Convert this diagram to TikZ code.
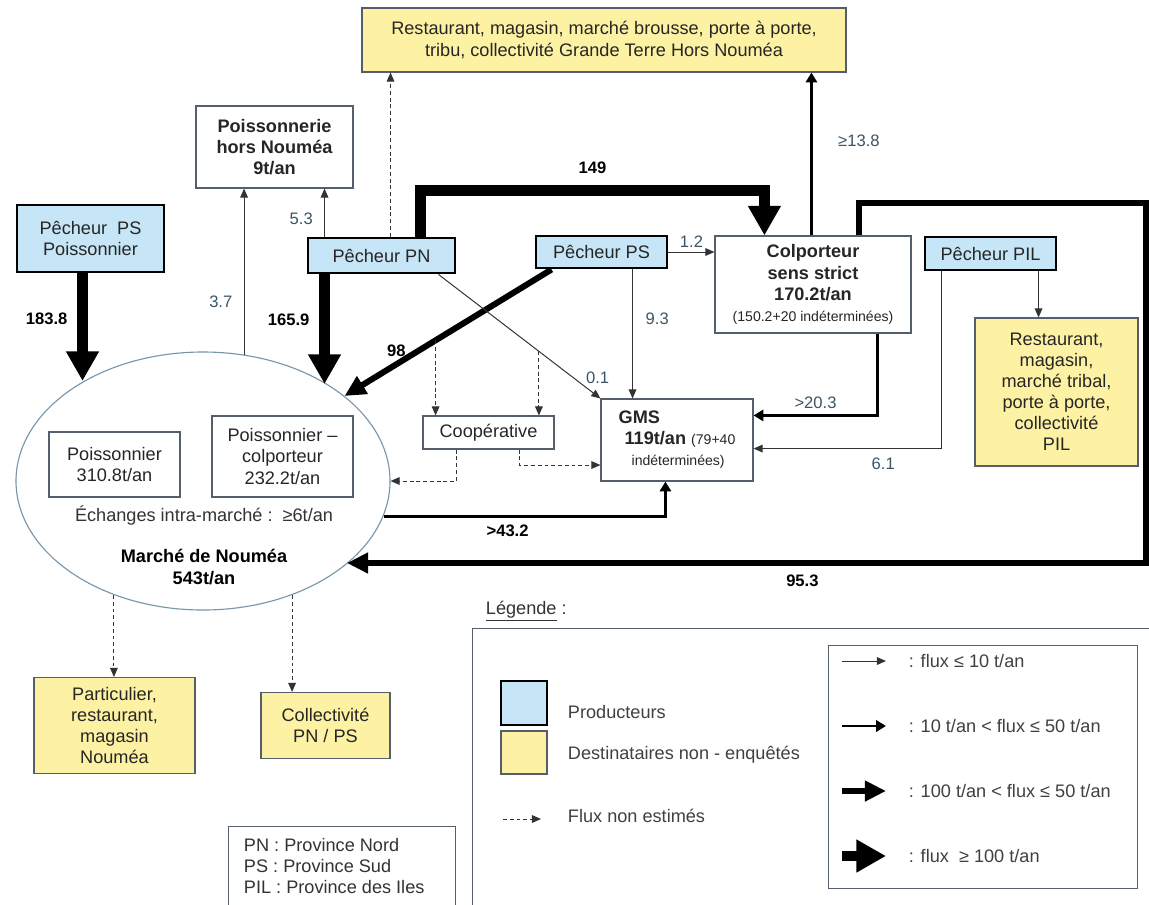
\documentclass[tikz,border=0pt]{standalone}
\usepackage{fontspec}
\setmainfont{Liberation Sans}
\usetikzlibrary{calc,positioning,arrows.meta,shapes.geometric}

\definecolor{prodblue}{RGB}{198,229,246}
\definecolor{destyellow}{RGB}{253,241,163}
\definecolor{boxgray}{RGB}{85,95,105}
\definecolor{lblgray}{RGB}{60,85,100}
\definecolor{ellgray}{RGB}{120,150,170}

\newdimen\pxu \pxu=0.025cm
\newcommand\boxfont{\fontsize{12.9}{15}\selectfont}
\newcommand\lblfont{\fontsize{11.8}{13}\selectfont}
\newcommand\smallfont{\fontsize{10}{12}\selectfont}

\begin{document}
\begin{tikzpicture}[x=0.025cm, y=-0.025cm, font=\boxfont]
	\tikzset{
		box/.style={draw=boxgray, line width=0.8pt, inner sep=0pt, align=center, text=black!85},
		prod box/.style={box, draw=black, line width=2.1pt, fill=prodblue},
		dest box/.style={box, fill=destyellow},
		flux/.style={draw=black!80, line width=0.7pt, -{Triangle[width=5.5pt,length=6.5pt]}},
		flux mid/.style={draw=black, line width=2.1pt, -{Triangle[width=8pt,length=7pt]}},
		flux big/.style={draw=black, line width=4.3pt, -{Triangle[width=14pt,length=15pt]}},
		flux huge/.style={draw=black, line width=7.5pt, -{Triangle[width=22pt,length=21pt]}},
		flux dash/.style={flux, dash pattern=on 2.8pt off 2pt},
		lbl/.style={text=lblgray, font=\lblfont, inner sep=1pt},
		blbl/.style={text=black, font=\lblfont\bfseries, inner sep=1pt},
	}
	\fill[white] (0,0) rectangle (1149,904);
	\useasboundingbox (0,0) rectangle (1149,904);
	%
	\node[dest box, minimum width=484\pxu, minimum height=64\pxu] (destGT) at (604,40)
		{Restaurant, magasin, marché brousse, porte à porte,\\tribu, collectivité Grande Terre Hors Nouméa};
	\node[box, font=\boxfont\bfseries, minimum width=157\pxu, minimum height=82\pxu] (poisHN) at (274.5,147)
		{Poissonnerie\\hors Nouméa\\9t/an};
	\node[prod box, minimum width=147\pxu, minimum height=67\pxu] (pecPSP) at (90.5,238.5) {Pêcheur\ \ PS\\Poissonnier};
	\node[prod box, minimum width=147\pxu, minimum height=35\pxu] (pecPN) at (381.5,255.5) {Pêcheur PN};
	\node[prod box, minimum width=131\pxu, minimum height=32\pxu] (pecPS) at (601.5,252) {Pêcheur PS};
	\node[box, minimum width=196\pxu, minimum height=97\pxu] (colp) at (813,284.5)
		{\textbf{Colporteur}\\\textbf{sens strict}\\\textbf{170.2t/an}\\{\smallfont(150.2+20 indéterminées)}};
	\node[prod box, minimum width=131\pxu, minimum height=33\pxu] (pecPIL) at (990.5,253.5) {Pêcheur PIL};
	\node[dest box, minimum width=163\pxu, minimum height=148\pxu] (destPIL) at (1056.5,392)
		{Restaurant,\\magasin,\\marché tribal,\\porte à porte,\\collectivité\\PIL};
	%
	\node[ellipse, draw=ellgray, line width=0.8pt, minimum width=374\pxu, minimum height=258\pxu, inner sep=0pt] (marche) at (203,481) {};
	\node[box, minimum width=131\pxu, minimum height=65\pxu] (poiss) at (114.5,464.5) {Poissonnier\\310.8t/an};
	\node[box, minimum width=141\pxu, minimum height=81\pxu] (poisscol) at (282.5,456.5) {Poissonnier --\\colporteur\\232.2t/an};
	\node[text=black!80] (echanges) at (204,516) {Échanges intra-marché :\ \ ≥6t/an};
	\node[font=\boxfont\bfseries, align=center] (marchelbl) at (204,567) {Marché de Nouméa\\543t/an};
	%
	\node[box, minimum width=131\pxu, minimum height=33\pxu] (coop) at (488.5,432.5) {Coopérative};
	\node[box, align=left, minimum width=152\pxu, minimum height=82\pxu] (gms) at (677,440)
		{\textbf{GMS}\\\hspace*{6\pxu}\textbf{119t/an} {\smallfont(79+40}\\\hspace*{13\pxu}{\smallfont indéterminées)}};
	\node[dest box, minimum width=161\pxu, minimum height=96\pxu] (destNou) at (114.5,725.5) {Particulier,\\restaurant,\\magasin\\Nouméa};
	\node[dest box, minimum width=129\pxu, minimum height=66\pxu] (destPNPS) at (325.5,725.5) {Collectivité\\PN / PS};
	%
	\coordinate (loopNE) at (1146,203);
	\coordinate (loopSE) at (1146,563);
	% big flows
	\draw[flux huge] ($(pecPSP.south)+(-8,0)$) coordinate (pp1) -- (pp1 |- marche.140) node[blbl, pos=0.42, left=6pt] {183.8};
	\draw[flux huge] ($(pecPN.south west)+(18,0)$) coordinate (pn2) -- (pn2 |- marche.38) node[blbl, pos=0.41, left=6pt] {165.9};
	\draw[flux huge] ($(pecPN.north west)+(114,0)$) -- ++(0,-46) -| ($(colp.north west)+(50,0)$) node[blbl, pos=0.25, above=7pt] {149};
	\draw[flux big] ($(pecPS.south west)+(17,0)$) coordinate (s98) -- node[blbl, pos=0.75, above=2pt] {98} (marche.31);
	\draw[flux big] ($(colp.north west)+(145,0)$) |- (loopNE) -- (loopSE) -- (loopSE -| marche.-30) node[blbl, pos=0.43, below=5pt] {95.3};
	\draw[flux mid] (marche.-11) -| ($(gms.south west)+(65,0)$) node[blbl, pos=0.22, below=4pt] {>43.2};
	\draw[flux mid] ($(colp.north west)+(97,0)$) coordinate (c1) -- (c1 |- destGT.south) node[lbl, pos=0.58, right=17pt] {≥13.8};
	\draw[flux mid] ($(colp.south west)+(163,0)$) |- ($(gms.north east)+(0,17)$) node[lbl, pos=0.75, above=3pt] {>20.3};
	% small flows
	\draw[flux] (marche.72) coordinate (m0) -- (m0 |- poisHN.south) node[lbl, pos=0.32, left=7pt] {3.7};
	\draw[flux] ($(pecPN.north west)+(18,0)$) coordinate (pn1) -- (pn1 |- poisHN.south) node[lbl, pos=0.36, left=7pt] {5.3};
	\draw[flux] ($(pecPN.south west)+(132,0)$) coordinate (s01) -- node[lbl, pos=0.9, above right=0pt] {0.1} (gms.north west);
	\draw[flux] (pecPS.east) -- (pecPS.east -| colp.west) node[lbl, pos=0.5, above=2pt] {1.2};
	\draw[flux] ($(pecPS.south west)+(98,0)$) coordinate (ps2) -- (ps2 |- gms.north) node[lbl, pos=0.38, right=8pt] {9.3};
	\draw[flux] ($(pecPIL.south west)+(18,0)$) |- ($(gms.south east)+(0,-33)$) node[lbl, pos=0.655, below=5pt] {6.1};
	\draw[flux] ($(pecPIL.south west)+(115,0)$) coordinate (pil1) -- (pil1 |- destPIL.north);
	% flux non estimes
	\draw[flux dash] ($(pecPN.north west)+(84,0)$) coordinate (pn3) -- (pn3 |- destGT.south);
	\draw[flux dash] ($(s98)!0.56!(marche.31)$) coordinate (d1) -- (d1 |- coop.north);
	\draw[flux dash] ($(s01)!0.62!(gms.north west)$) coordinate (d2) -- (d2 |- coop.north);
	\draw[flux dash] ($(coop.south west)+(34,0)$) |- (marche.east);
	\draw[flux dash] ($(coop.south west)+(97,0)$) |- ($(gms.west)+(0,25)$);
	\draw[flux dash] (marche.232) coordinate (m1) -- (m1 |- destNou.north);
	\draw[flux dash] (marche.-52) coordinate (m2) -- (m2 |- destPNPS.north);
	%
	% legende
	\node[anchor=west, text=black!80] (legtitle) at (481,611) {\underline{Légende} :};
	\node[box, anchor=north west, minimum width=700\pxu, minimum height=290\pxu] (legend) at (472,628) {};
	\node[box, anchor=north west, minimum width=309\pxu, minimum height=243\pxu] (legflux) at (828,645) {};
	\node[prod box, minimum width=46\pxu, minimum height=44\pxu] (legprod) at (524,703) {};
	\node[anchor=west, text=black!75] (legprodtxt) at (563,712) {Producteurs};
	\node[dest box, minimum width=46\pxu, minimum height=43\pxu] (legdest) at (524,752.5) {};
	\node[anchor=west, text=black!75] (legdesttxt) at (563,755) {Destinataires non - enquêtés};
	\node[anchor=west, text=black!75] (legdashtxt) at (563,816) {Flux non estimés};
	\draw[flux dash] ($(legdashtxt.west)+(-60,3)$) -- ($(legdashtxt.west)+(-22,3)$);
	\foreach \sty/\txt [count=\i] in {flux/{: flux ≤ 10 t/an}, flux mid/{: 10 t/an < flux ≤ 50 t/an},
			flux big/{: 100 t/an < flux ≤ 50 t/an}, flux huge/{: flux\ \ ≥ 100 t/an}} {
		\node[anchor=west, text=black!75] (fl\i) at (904,596+65*\i) {\txt};
		\draw[\sty] ($(fl\i.west)+(-62,0)$) -- ($(fl\i.west)+(-18,0)$);
	}
	%
	\node[box, anchor=north west, minimum width=227\pxu, minimum height=90\pxu] (prov) at (228,826) {};
	\node[anchor=west, align=left, text=black!80, font=\fontsize{12.9}{14.6}\selectfont] (provtxt) at (239,866)
		{PN : Province Nord\\PS : Province Sud\\PIL : Province des Iles};
\end{tikzpicture}
\end{document}
